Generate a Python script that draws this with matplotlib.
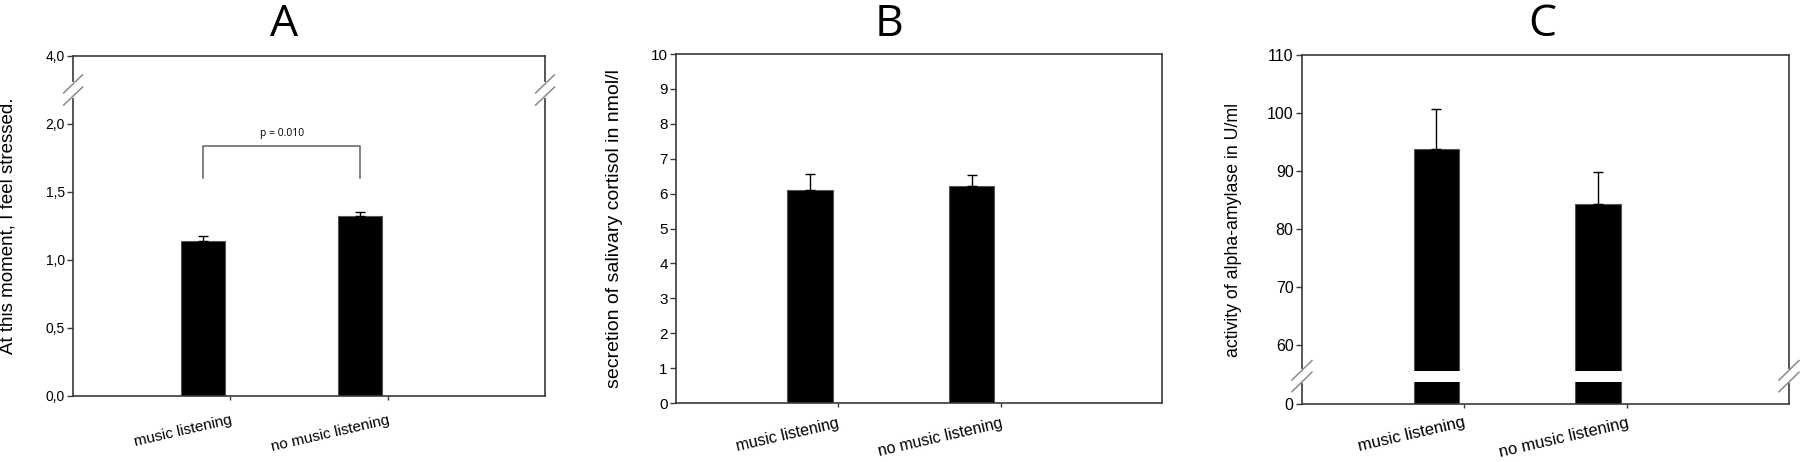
import matplotlib
matplotlib.use("Agg")
import matplotlib.pyplot as plt
import numpy as np
from matplotlib.ticker import FuncFormatter

# --- data ---
groups = ['music listening', 'no music listening']

stress_mean = [1.14, 1.32]
stress_err = [0.04, 0.03]

cortisol_mean = [6.10, 6.21]
cortisol_err = [0.46, 0.31]

amylase_mean = [93.7, 84.2]
amylase_err = [6.9, 5.6]

p_text = 'p = 0.010'

stress_ticks = [0.0, 0.5, 1.0, 1.5, 2.0, 4.0]
cortisol_ticks = list(range(0, 11))
amylase_ticks = [0, 60, 70, 80, 90, 100, 110]

SPINE = '#3a3a3a'
BREAK = '#8a8a8a'
plt.rcParams['font.family'] = ['Liberation Sans', 'DejaVu Sans']


def fw_top(y):
    # axis A: everything above 2.0 squeezed to a quarter
    y = np.asarray(y, dtype=float)
    return np.where(y <= 2.0, y, 2.0 + (y - 2.0) * 0.25)


def inv_top(t):
    t = np.asarray(t, dtype=float)
    return np.where(t <= 2.0, t, 2.0 + (t - 2.0) / 0.25)


def fw_bottom(y):
    # axis C: 0..50 squeezed to almost nothing
    y = np.asarray(y, dtype=float)
    return np.where(y >= 50, y, 49.75 + y * 0.005)


def inv_bottom(t):
    t = np.asarray(t, dtype=float)
    return np.where(t >= 50, t, (t - 49.75) / 0.005)


def draw_break(ax, yf, dx, dy, sep):
    for xs in (0, 1):
        ax.plot([xs, xs], [yf - sep * 0.9, yf + sep * 0.9], color='white',
                lw=3, transform=ax.transAxes, clip_on=False, zorder=5)
        for s in (-sep, sep):
            ax.plot([xs - dx, xs + dx], [yf + s - dy, yf + s + dy],
                    color=BREAK, lw=1.1, transform=ax.transAxes,
                    clip_on=False, zorder=6)


def style_panel(ax, tick_fs, xlab_fs, xpad):
    for sp in ax.spines.values():
        sp.set_color(SPINE)
        sp.set_linewidth(1.2)
    ax.tick_params(axis='y', direction='out', length=4, width=1,
                   color=SPINE, labelsize=tick_fs, pad=2)
    ax.tick_params(axis='x', direction='out', length=3, width=1,
                   color=SPINE, pad=xpad)
    ax.set_xlim(0.17, 3.18)
    ax.set_xticks([1.17, 2.18])
    ax.set_xticklabels(groups, rotation=13, ha='right',
                       rotation_mode='anchor', fontsize=xlab_fs)


def bars(ax, mean, err):
    x = np.arange(1, len(mean) + 1)
    ax.bar(x, mean, width=0.28, color='black', edgecolor='#555555',
           linewidth=0.8, zorder=2)
    ax.errorbar(x, mean, yerr=[np.zeros(len(err)), err], fmt='none',
                ecolor='black', elinewidth=1, capsize=3.5, capthick=1,
                zorder=3)
    return x


fig = plt.figure(figsize=(18, 4.62), dpi=100)

# ---------- A ----------
axA = fig.add_axes([0.0406, 0.1429, 0.2622, 0.7359])
axA.set_yscale('function', functions=(fw_top, inv_top))
xA = bars(axA, stress_mean, stress_err)
axA.set_ylim(0, 4.0)
axA.set_yticks(stress_ticks)
axA.yaxis.set_major_formatter(FuncFormatter(lambda v, p: f'{v:.1f}'.replace('.', ',')))
style_panel(axA, 10, 11, 9)
axA.set_ylabel('At this moment, I feel stressed.', fontsize=13.5)
axA.yaxis.set_label_coords(-0.12, 0.5)
axA.plot([xA[0], xA[0], xA[1], xA[1]], [1.60, 1.84, 1.84, 1.60],
         color='#606060', lw=1.1)
axA.text(xA.mean(), 1.93, p_text, ha='center', va='center', fontsize=7.5,
         family=['Open Sans', 'DejaVu Sans'])
draw_break(axA, 0.90, 0.02, 0.0265, 0.018)

# ---------- B ----------
axB = fig.add_axes([0.3756, 0.1277, 0.27, 0.7554])
bars(axB, cortisol_mean, cortisol_err)
axB.set_ylim(0, 10)
axB.set_yticks(cortisol_ticks)
style_panel(axB, 11, 11.5, 6)
axB.set_ylabel('secretion of salivary cortisol in nmol/l', fontsize=14)
axB.yaxis.set_label_coords(-0.109, 0.5)

# ---------- C ----------
axC = fig.add_axes([0.7233, 0.1255, 0.2706, 0.7554])
axC.set_yscale('function', functions=(fw_bottom, inv_bottom))
xC = bars(axC, amylase_mean, amylase_err)
# white gap cut through the bars at the axis break
axC.bar(xC, 2.0, bottom=53.5, width=0.3, color='white', linewidth=0, zorder=2.5)
axC.set_ylim(0, 110)
axC.set_yticks(amylase_ticks)
style_panel(axC, 11.5, 12, 5)
axC.set_ylabel('activity of alpha-amylase in U/ml', fontsize=12.8)
axC.yaxis.set_label_coords(-0.123, 0.5)
draw_break(axC, 0.08, 0.0205, 0.028, 0.0167)

# panel letters
for lab, xf in (('A', 0.158), ('B', 0.494), ('C', 0.857)):
    fig.text(xf, 0.995, lab, ha='center', va='top', fontsize=32,
             family=['Open Sans', 'DejaVu Sans'])

fig.savefig('out.png', dpi=100)
